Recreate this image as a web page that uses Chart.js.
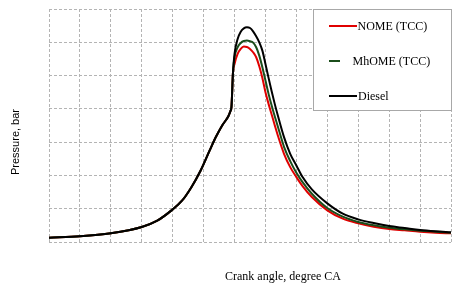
<!DOCTYPE html>
<html>
<head>
<meta charset="utf-8">
<script src="https://cdn.jsdelivr.net/npm/chart.js@4.4.0/dist/chart.umd.min.js"></script>
<style>
  html, body { margin: 0; padding: 0; background: #fff; }
</style>
</head>
<body>
<canvas id="mycanvas" width="461" height="292"></canvas>
<script>
// crank angle, degree CA
var angles = [-60, -50, -40, -30, -25, -20, -17, -14, -11, -8, -6, -4, -2, -1.3, -1, -0.5, 0, 1, 2, 3, 4, 5, 6, 7, 8, 9, 10, 11, 12, 13, 14, 16, 18, 20, 22, 25, 30, 35, 40, 45, 50, 55, 60, 65, 70];
// pressure, bar
var nome   = [1.3, 1.7, 2.6, 4.5, 6.4, 9.8, 12.4, 16.4, 21.4, 27.6, 31.6, 35, 37.8, 39.4, 40.5, 51, 53.5, 56.5, 58, 58.7, 58.6, 58, 57, 55.5, 52.8, 49.3, 45, 41.5, 38.3, 35.1, 32, 26.5, 22.5, 19.5, 16.8, 13.5, 9.5, 7, 5.6, 4.6, 3.9, 3.5, 3.1, 2.8, 2.6];
var mhome  = [1.3, 1.7, 2.6, 4.5, 6.4, 9.8, 12.4, 16.4, 21.4, 27.6, 31.6, 35, 37.8, 39.4, 40.5, 51, 55.5, 58.5, 59.8, 60.4, 60.5, 60.3, 59.9, 58.5, 56, 52.5, 48.5, 44.5, 41, 37.8, 34.7, 28.6, 24.3, 20.8, 18, 14.5, 10.2, 7.6, 6, 5, 4.3, 3.8, 3.4, 3.1, 2.8];
var diesel = [1.3, 1.7, 2.6, 4.5, 6.4, 9.8, 12.4, 16.4, 21.4, 27.6, 31.6, 35, 37.8, 39.4, 40.5, 51, 56.5, 61, 63.2, 64.2, 64.5, 64.3, 63.3, 61.8, 60, 57.5, 53.5, 49.3, 45.3, 41.5, 38, 31.5, 26.5, 23, 19.5, 15.8, 11.6, 8.5, 6.8, 5.7, 4.8, 4.2, 3.6, 3.2, 2.9];

var seriesNames = ['NOME (TCC)', 'MhOME (TCC)', 'Diesel'];
var seriesColors = ['#e00000', '#1b4d1b', '#000000'];

function toPoints(vals) {
	var pts = [];
	for (var i in angles) {
		pts.push({x: angles[i], y: vals[i]});
	}
	return pts;
}

// legend box drawn inside the plot, plus axis titles
var overlay = {
	id: 'overlay',
	afterDraw: function(chart) {
		var ctx = chart.ctx;
		var a = chart.chartArea;
		ctx.save();

		// legend
		var bx = 313.5, by = a.top + 0.5, bw = a.right - 313, bh = 101;
		ctx.fillStyle = '#ffffff';
		ctx.fillRect(bx, by, bw, bh);
		ctx.strokeStyle = '#a8a8a8';
		ctx.lineWidth = 1;
		ctx.setLineDash([]);
		ctx.strokeRect(bx, by, bw, bh);

		var rows = [26, 61, 96];
		var lineEnd = [357, 340, 357];
		var textX = [357.5, 352.5, 358];
		ctx.font = '12px "Liberation Serif", "Times New Roman", serif';
		ctx.textBaseline = 'middle';
		ctx.textAlign = 'left';
		for (var i = 0; i < 3; i++) {
			ctx.strokeStyle = seriesColors[i];
			ctx.lineWidth = 2;
			ctx.beginPath();
			ctx.moveTo(329, rows[i]);
			ctx.lineTo(lineEnd[i], rows[i]);
			ctx.stroke();
			ctx.fillStyle = '#000';
			ctx.fillText(seriesNames[i], textX[i], rows[i] + 0.5);
		}

		// x title
		ctx.font = '12px "Liberation Serif", "Times New Roman", serif';
		ctx.textAlign = 'center';
		ctx.fillStyle = '#000';
		ctx.fillText('Crank angle, degree CA', 283, 277);

		// y title
		ctx.translate(16, 142);
		ctx.rotate(-Math.PI / 2);
		ctx.font = '11px "Liberation Sans", Arial, sans-serif';
		ctx.fillText('Pressure, bar', 0, 0);

		ctx.restore();
	}
};

var datasets = [];
var orders = [2, 1, 0];
for (var k = 0; k < 3; k++) {
	datasets.push({
		label: seriesNames[k],
		data: toPoints([nome, mhome, diesel][k]),
		borderColor: seriesColors[k],
		borderWidth: 2,
		pointRadius: 0,
		fill: false,
		cubicInterpolationMode: 'monotone',
		order: orders[k]
	});
}

var gridOpts = {
	color: '#b4b4b4',
	lineWidth: 1,
	drawTicks: false,
	tickLength: 0
};

var ctx = document.getElementById('mycanvas');
var chart = new Chart(ctx, {
	type: 'line',
	data: { datasets: datasets },
	options: {
		responsive: false,
		animation: false,
		layout: { padding: { left: 49, top: 9, right: 10, bottom: 50 } },
		plugins: {
			legend: { display: false },
			tooltip: { enabled: false }
		},
		scales: {
			x: {
				type: 'linear',
				min: -60,
				max: 70,
				ticks: { display: false, stepSize: 10 },
				grid: gridOpts,
				border: { display: false, dash: [3, 2] }
			},
			y: {
				min: 0,
				max: 70,
				ticks: { display: false, stepSize: 10 },
				grid: gridOpts,
				border: { display: false, dash: [3, 2] }
			}
		}
	},
	plugins: [overlay]
});
</script>
</body>
</html>
